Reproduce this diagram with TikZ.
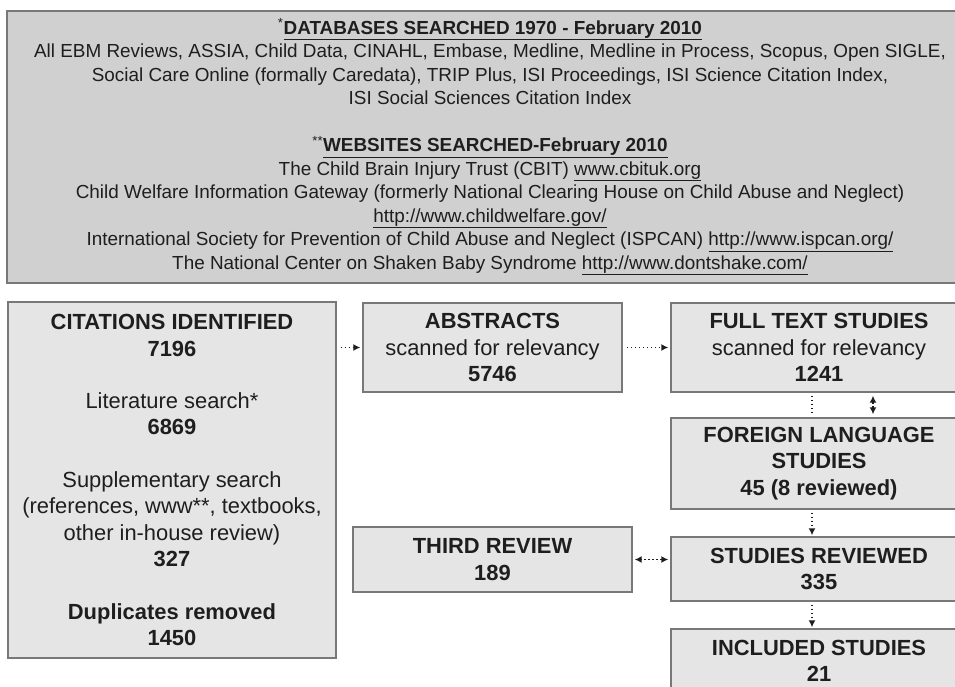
\documentclass[tikz,border=0pt]{standalone}
\usepackage{fontspec}
\setmainfont{Liberation Sans}
\usetikzlibrary{arrows.meta}
\definecolor{topfill}{RGB}{208,208,208}
\definecolor{boxfill}{RGB}{229,229,229}
\definecolor{edge}{RGB}{120,120,120}
\definecolor{ink}{RGB}{30,30,30}
\tikzset{
  topbox/.style={draw=edge, line width=1.4pt, fill=topfill, text=ink, align=center,
    inner sep=0pt, font=\fontsize{18.9}{23.5}\selectfont},
  flowbox/.style={draw=edge, line width=1.4pt, fill=boxfill, text=ink, align=center,
    inner sep=0pt, font=\fontsize{21.9}{26.3}\selectfont},
  dotline/.style={draw=ink, line width=1.7pt, dash pattern=on 1.6pt off 2.4pt},
  arr/.style={dotline, -{Latex[length=7pt,width=7pt]}},
  darr/.style={dotline, {Latex[length=7pt,width=7pt]}-{Latex[length=7pt,width=7pt]}}
}
\begin{document}
\begin{tikzpicture}[x=1pt,y=-1pt]
\useasboundingbox (0,0) rectangle (955,687);
\clip (0,0) rectangle (955,687);
\fill[white] (0,0) rectangle (955,687);

\node[topbox, minimum width=966pt, minimum height=272pt] (db) at (490,147)
{\textsuperscript{*}\textbf{\underline{DATABASES SEARCHED 1970 - February 2010}}\\
All EBM Reviews, ASSIA, Child Data, CINAHL, Embase, Medline, Medline in Process, Scopus, Open SIGLE,\\
Social Care Online (formally Caredata), TRIP Plus, ISI Proceedings, ISI Science Citation Index,\\
ISI Social Sciences Citation Index\\
~\\
\textsuperscript{**}\textbf{\underline{WEBSITES SEARCHED-February 2010}}\\
The Child Brain Injury Trust (CBIT) \underline{www.cbituk.org}\\
Child Welfare Information Gateway (formerly National Clearing House on Child Abuse and Neglect)\\
\underline{http://www.childwelfare.gov/}\\
International Society for Prevention of Child Abuse and Neglect (ISPCAN) \underline{http://www.ispcan.org/}\\
The National Center on Shaken Baby Syndrome \underline{http://www.dontshake.com/}};

\node[flowbox, minimum width=328pt, minimum height=356pt] (cit) at (172,480)
{\textbf{CITATIONS IDENTIFIED}\\ \textbf{7196}\\ ~\\
Literature search*\\ \textbf{6869}\\ ~\\
Supplementary search\\ (references, www**, textbooks,\\ other in-house review)\\ \textbf{327}\\ ~\\
\textbf{Duplicates removed}\\ \textbf{1450}};

\node[flowbox, minimum width=259pt, minimum height=89pt] (abs) at (492.5,347.5)
{\textbf{ABSTRACTS}\\ scanned for relevancy\\ \textbf{5746}};

\node[flowbox, minimum width=296pt, minimum height=89pt] (ft) at (819,347.5)
{\textbf{FULL TEXT STUDIES}\\ scanned for relevancy\\ \textbf{1241}};

\node[flowbox, minimum width=296pt, minimum height=91pt] (fl) at (819,463.5)
{\textbf{FOREIGN LANGUAGE}\\ \textbf{STUDIES}\\ \textbf{45 (8 reviewed)}};

\node[flowbox, minimum width=279pt, minimum height=65pt] (tr) at (492.5,559.5)
{\textbf{THIRD REVIEW}\\ \textbf{189}};

\node[flowbox, minimum width=296pt, minimum height=64pt] (sr) at (819,569)
{\textbf{STUDIES REVIEWED}\\ \textbf{335}};

\node[flowbox, minimum width=296pt, minimum height=64pt] (inc) at (819,661)
{\textbf{INCLUDED STUDIES}\\ \textbf{21}};

\coordinate (vx) at (812,0);
\coordinate (vy) at (873,0);

\draw[arr, shorten <=4pt, shorten >=2pt] (cit.east |- abs.west) -- (abs.west);
\draw[arr, shorten <=4pt, shorten >=2pt] (abs.east) -- (ft.west);
\draw[dotline, shorten <=3pt, shorten >=2pt] (ft.south -| vx) -- (fl.north -| vx);
\draw[darr, shorten <=3pt, shorten >=3pt] (ft.south -| vy) -- (fl.north -| vy);
\draw[arr, shorten <=3pt, shorten >=1pt] (fl.south -| vx) -- (sr.north -| vx);
\draw[darr, shorten <=2pt, shorten >=2pt] (sr.west |- tr.east) -- (tr.east);
\draw[arr, shorten <=3pt, shorten >=1pt] (sr.south -| vx) -- (inc.north -| vx);
\end{tikzpicture}
\end{document}
